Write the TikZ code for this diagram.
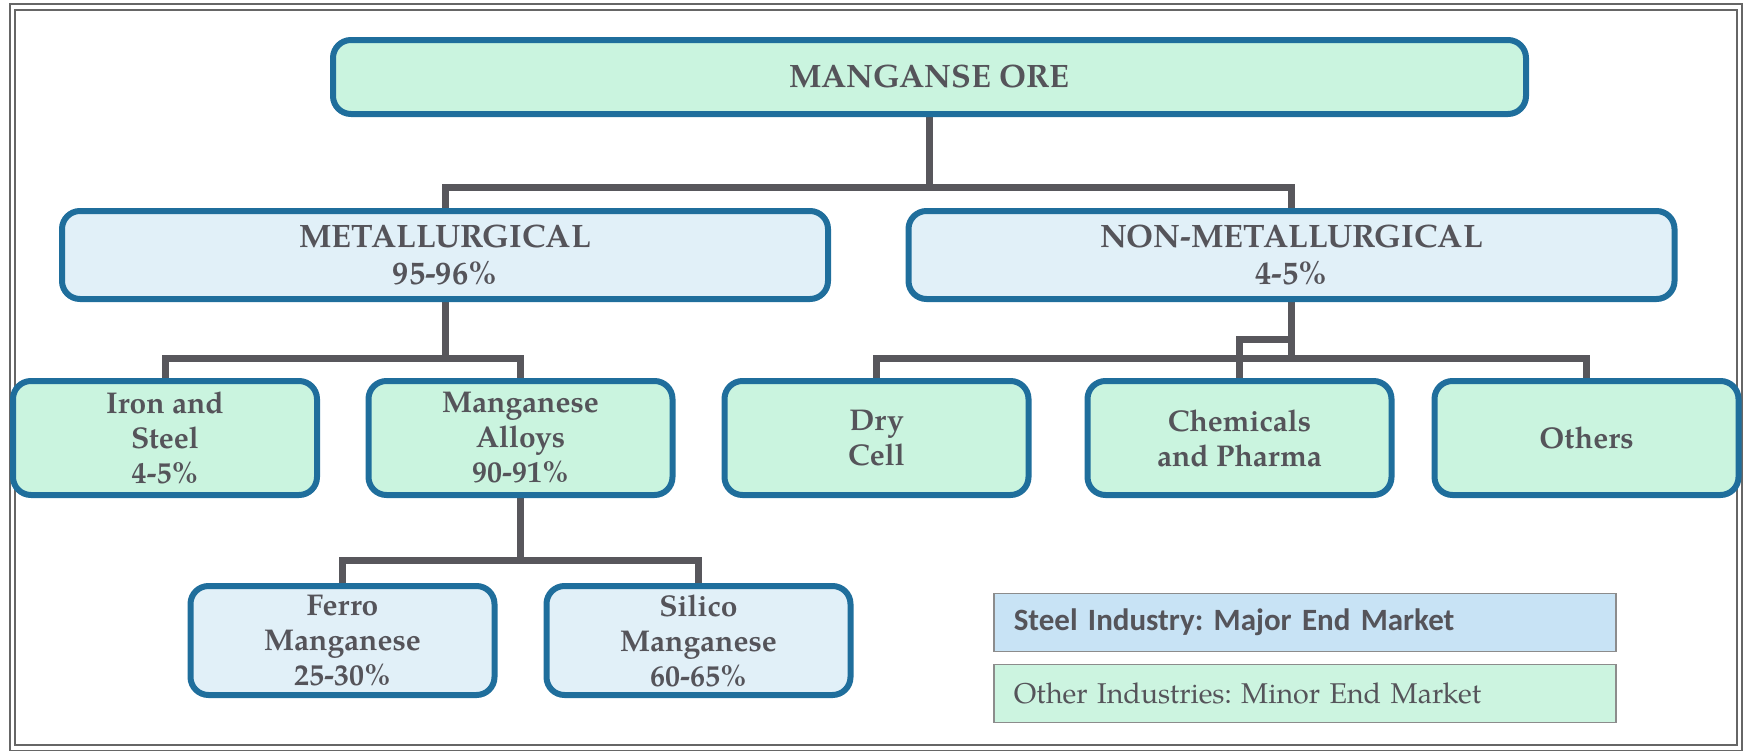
\documentclass[tikz,border=0pt]{standalone}
\usepackage{fontspec}
\newfontfamily\calibri{Carlito}
\newfontfamily\palfont{texgyrepagella}[Extension=.otf, UprightFont=*-regular, BoldFont=*-bold]
\usetikzlibrary{backgrounds}
\definecolor{txtgray}{HTML}{55545A}
\definecolor{edgeblue}{HTML}{1F6E9C}
\definecolor{gfill}{HTML}{CAF4DF}
\definecolor{bfill}{HTML}{E1F0F8}
\definecolor{lblue}{HTML}{C8E3F5}
\definecolor{lgreen}{HTML}{CCF4E0}
\definecolor{conngray}{HTML}{58575C}
\definecolor{framegray}{HTML}{666666}
\frenchspacing
\begin{document}
\begin{tikzpicture}[x=0.5pt,y=-0.5pt,
  box/.style={draw=edgeblue, line width=3pt, rounded corners=9pt, align=center,
    text=txtgray, font=\palfont\bfseries\fontsize{15}{17.5}\selectfont, inner sep=0pt},
  gbox/.style={box, fill=gfill},
  bbox/.style={box, fill=bfill},
  big/.style={font=\palfont\bfseries\fontsize{16.2}{18.5}\selectfont},
  small/.style={minimum width=152pt, minimum height=57pt},
  small2/.style={minimum width=152pt, minimum height=54.5pt},
  mid/.style={big, minimum width=383pt, minimum height=44pt},
  link/.style={draw=conngray, line width=3.5pt},
  legend/.style={draw=gray!90, line width=0.8pt, minimum width=311pt, minimum height=29pt,
    text width=291pt, inner xsep=10pt, inner ysep=0pt, align=left, text=txtgray, anchor=west},
  frameline/.style={draw=framegray, line width=1pt}
]
\useasboundingbox (0,0) rectangle (1746,750);
\draw[frameline] (10,4) rectangle (1742,751);
\draw[frameline] (15,10) rectangle (1737,745);

\node[gbox, big, minimum width=596.5pt, minimum height=37pt] (ore) at (929.5,77) {MANGANSE ORE};
\node[bbox, mid] (met) at (445,255) {METALLURGICAL\\95-96\%};
\node[bbox, mid] (non) at (1291.5,255) {NON-METALLURGICAL\\4-5\%};
\node[gbox, small] (iron) at (165,438) {Iron and\\Steel\\4-5\%};
\node[gbox, small] (alloy) at (520.5,438) {Manganese\\Alloys\\90-91\%};
\node[gbox, small] (dry) at (876.5,438) {Dry\\Cell};
\node[gbox, small] (chem) at (1239.5,438) {Chemicals\\and Pharma};
\node[gbox, small] (oth) at (1586.5,438) {Others};
\node[bbox, small2] (ferro) at (342.5,640.5) {Ferro\\Manganese\\25-30\%};
\node[bbox, small2] (silico) at (698.5,640.5) {Silico\\Manganese\\60-65\%};

\node[legend, fill=lblue, font=\calibri\bfseries\fontsize{15.5}{17}\selectfont] (leg1) at (993,622.5) {Steel Industry: Major End Market};
\node[legend, fill=lgreen, font=\palfont\fontsize{14.3}{16}\selectfont] (leg2) at (993,693.5) {Other Industries: Minor End Market};

\begin{pgfonlayer}{background}
  \coordinate (j1) at (929.5,187);
  \coordinate (j2) at (445,358);
  \coordinate (j3) at (1291.5,358);
  \coordinate (j3b) at (1291.5,362);
  \coordinate (s) at (1291.5,339);
  \coordinate (j4) at (520.5,560);
  \draw[link] (ore.south) -- (j1);
  \draw[link] (met.north) |- (j1) -| (non.north);
  \draw[link] (met.south) -- (j2);
  \draw[link] (iron.north) |- (j2) -| (alloy.north);
  \draw[link] (non.south) -- (j3b);
  \draw[link] (dry.north) |- (j3) -| (oth.north);
  \draw[link] (chem.north) |- (s);
  \draw[link] (alloy.south) -- (j4);
  \draw[link] (ferro.north) |- (j4) -| (silico.north);
\end{pgfonlayer}
\end{tikzpicture}
\end{document}
